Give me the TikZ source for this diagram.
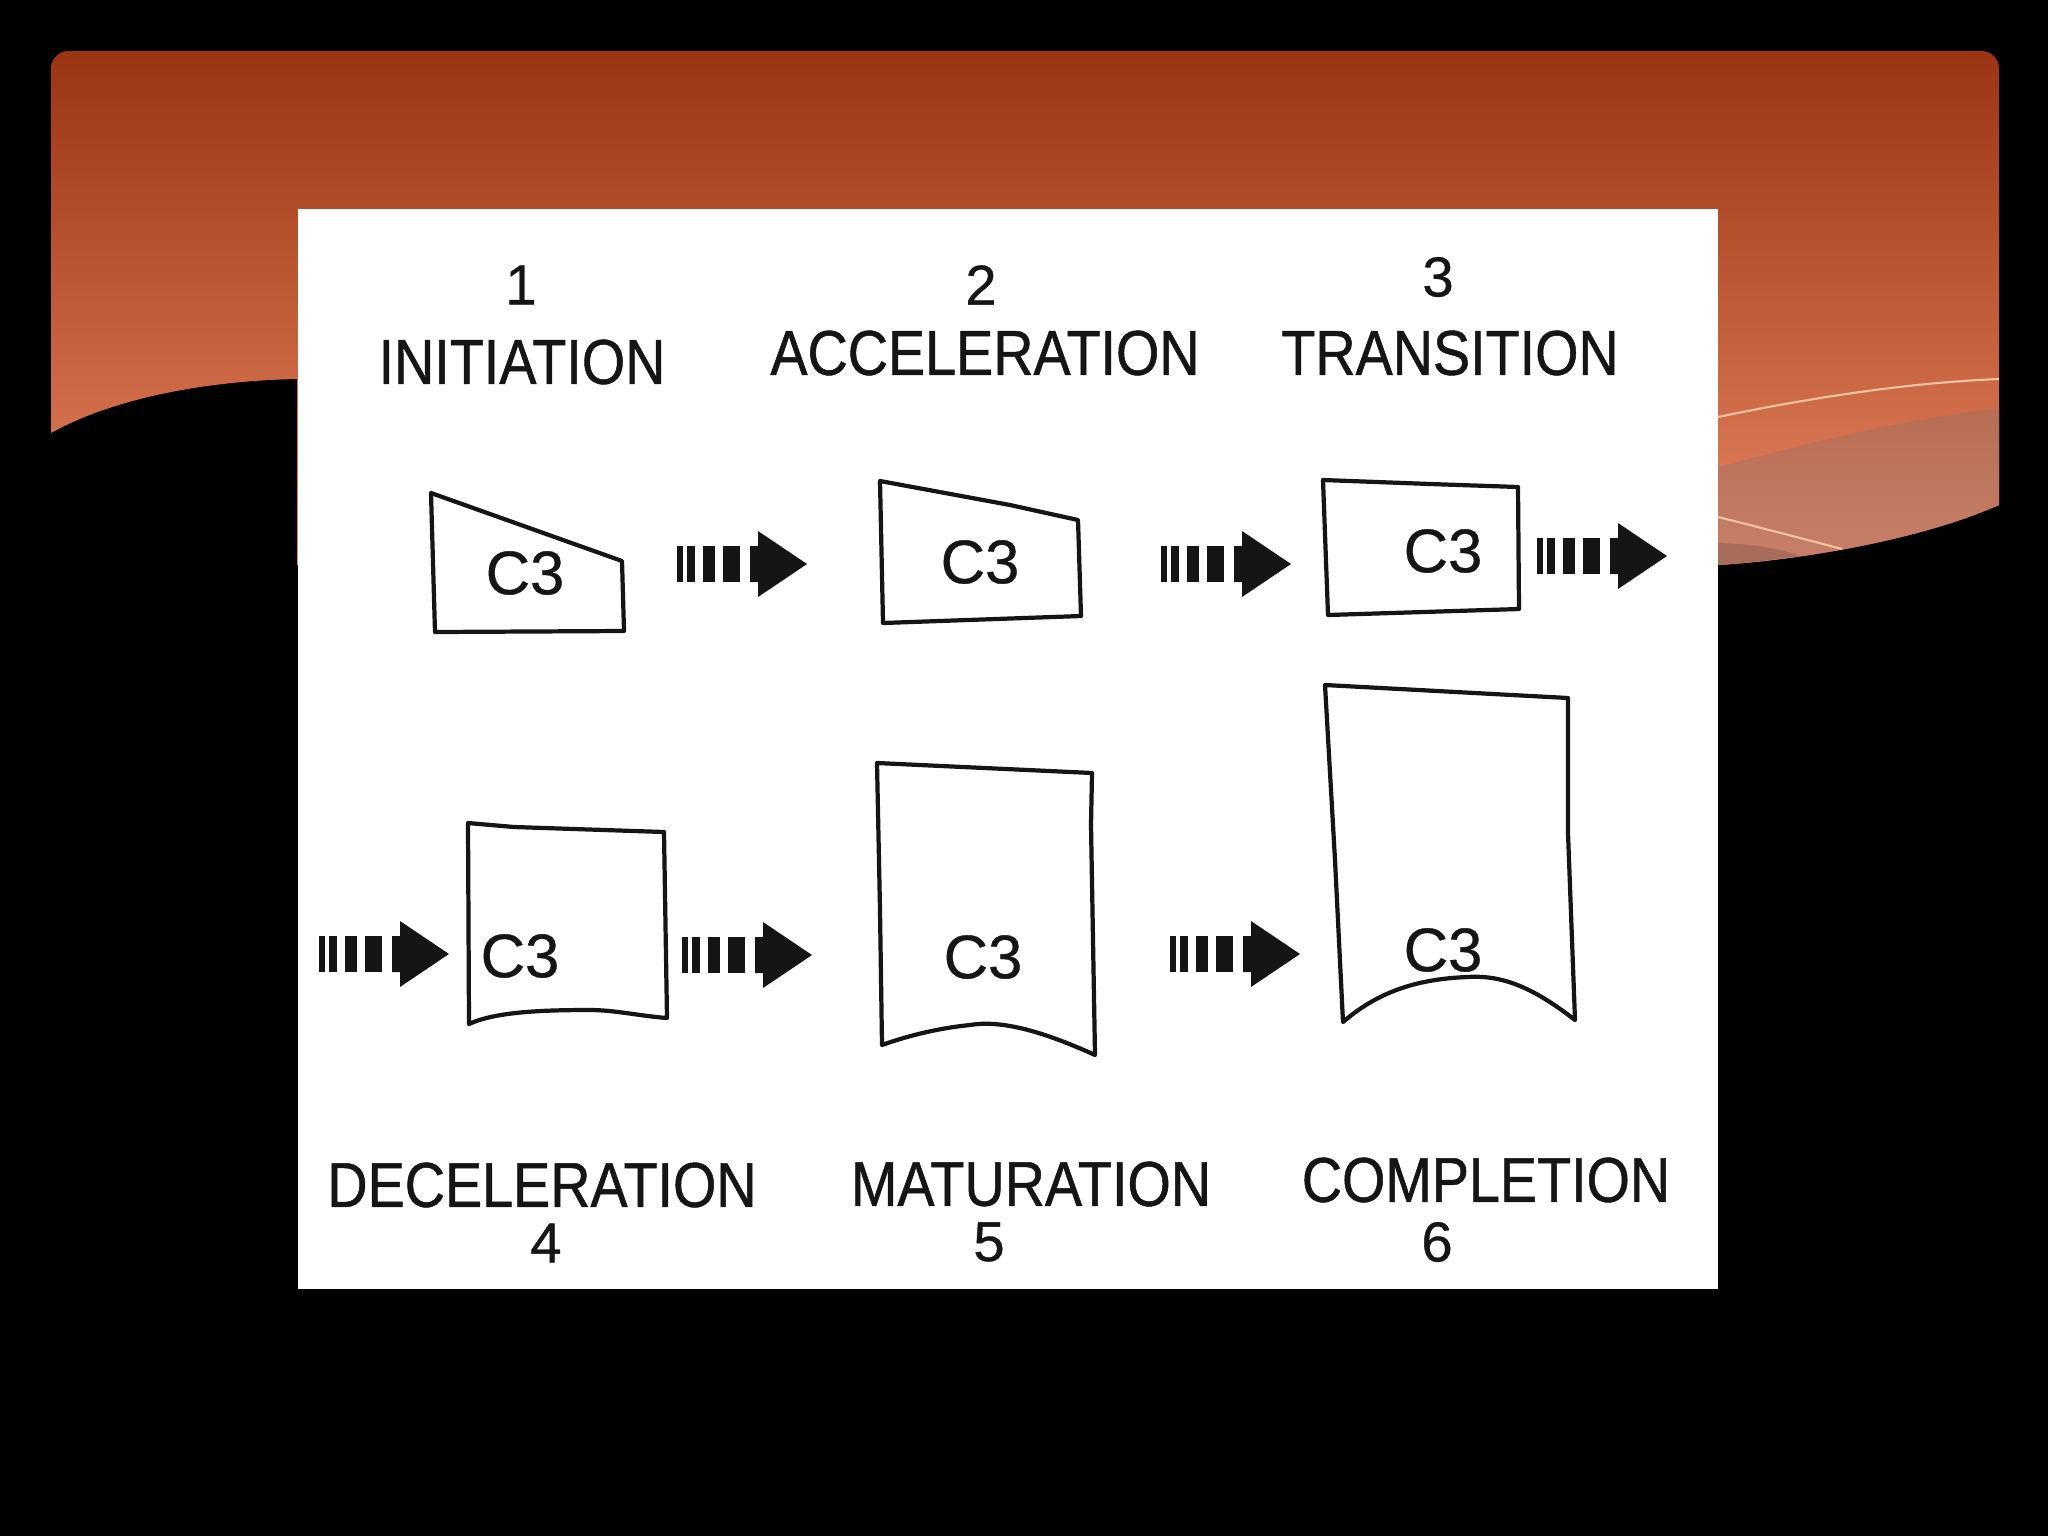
\documentclass[tikz,border=0pt]{standalone}
\usepackage{fontspec}
\newfontfamily\labfont[FakeStretch=0.88,FakeBold=0.8]{Liberation Sans}
\newfontfamily\cfont[FakeBold=0.6]{Liberation Sans}
\definecolor{hdtop}{HTML}{9A3412}
\definecolor{hdbot}{HTML}{E88460}
\definecolor{bandtop}{HTML}{B86C52}
\definecolor{bandbot}{HTML}{C8806A}
\definecolor{patch}{HTML}{A86C5A}
\definecolor{wisp}{HTML}{F4C4A0}
\definecolor{ink}{HTML}{151515}
\tikzset{
  pics/blockarrow/.style={code={
    \fill[ink] (0,-18) rectangle (6,18);
    \fill[ink] (10,-18) rectangle (18,18);
    \fill[ink] (26,-18) rectangle (38,18);
    \fill[ink] (46,-18) rectangle (63,18);
    \fill[ink] (73,-18) -- (81,-18) -- (81,-33) -- (130,0) -- (81,33) -- (81,18) -- (73,18) -- cycle;
  }},
  lab/.style={font=\labfont\fontsize{18}{20}\selectfont, text=ink, inner sep=0pt},
  num/.style={font=\cfont\fontsize{16}{18}\selectfont, text=ink, inner sep=0pt},
  ctext/.style={font=\cfont\fontsize{17.5}{20}\selectfont, text=ink, inner sep=0pt},
  stage/.style={draw=ink, line width=1.2pt, line join=round, line cap=round}
}
\begin{document}
\begin{tikzpicture}[x=0.01cm,y=-0.01cm]
\useasboundingbox (0,0) rectangle (2048,1536);
\fill[black] (0,0) rectangle (2048,1536);
% header
\shade[top color=hdtop, bottom color=hdbot]
  (51,433) [rounded corners=5pt] -- (51,51) -- (1999,51) -- (1999,200) [sharp corners] -- (1999,505)
  .. controls (1920,540) and (1800,560) .. (1718,565) -- (297,565) -- (297,379)
  .. controls (200,381) and (110,400) .. (51,433) -- cycle;
\shade[top color=bandtop, bottom color=bandbot]
  (1718,467) .. controls (1800,445) and (1900,420) .. (1999,408) -- (1999,505)
  .. controls (1920,540) and (1800,560) .. (1718,565) -- cycle;
\fill[patch] (1718,543) .. controls (1750,544) and (1775,547) .. (1800,556)
  .. controls (1770,560) and (1745,563) .. (1718,565) -- cycle;
\draw[wisp, line width=0.6pt] (1718,417) .. controls (1800,400) and (1900,383) .. (1999,379);
\draw[wisp, line width=0.6pt] (1718,517) .. controls (1770,530) and (1800,538) .. (1842,549);
% white panel
\fill[white] (298,209) rectangle (1718,1289);

% labels top
\node[num] (n1) at (521,285) {1};
\node[lab] (l1) at (522,362) {INITIATION};
\node[num] (n2) at (981,285) {2};
\node[lab] (l2) at (985,353) {ACCELERATION};
\node[num] (n3) at (1438,277) {3};
\node[lab] (l3) at (1450,353) {TRANSITION};
% labels bottom
\node[lab] (l4) at (542,1185) {DECELERATION};
\node[num] (n4) at (546,1243) {4};
\node[lab] (l5) at (1031,1184) {MATURATION};
\node[num] (n5) at (989,1242) {5};
\node[lab] (l6) at (1486,1180) {COMPLETION};
\node[num] (n6) at (1437,1242) {6};

% stage 1
\draw[stage] (431,493) -- (622,561) -- (624,631) -- (435,632) -- cycle;
\node[ctext] (c1) at (525,573) {C3};
% stage 2
\draw[stage] (880,481) -- (1010,505) -- (1078,520) -- (1081,616) -- (883,623) -- cycle;
\node[ctext] (c2) at (980,562) {C3};
% stage 3
\draw[stage] (1323,480) -- (1430,484) -- (1518,487) -- (1519,609) -- (1328,615) -- cycle;
\node[ctext] (c3) at (1443,551) {C3};
% stage 4
\draw[stage] (468,823) -- (514,827) -- (664,832) -- (667,1018)
  .. controls (640,1016) and (615,1010) .. (590,1010)
  .. controls (540,1010) and (495,1012) .. (469,1024) -- cycle;
\node[ctext] (c4) at (520,956) {C3};
% stage 5
\draw[stage] (877,763) -- (1092,773) -- (1091,825) -- (1095,1055)
  .. controls (1040,1030) and (1000,1020) .. (970,1025)
  .. controls (940,1028) and (910,1035) .. (882,1045)
  -- (880,910) -- cycle;
\node[ctext] (c5) at (983,957) {C3};
% stage 6
\draw[stage] (1325,685) -- (1568,698) -- (1568,833) -- (1575,1020)
  .. controls (1530,985) and (1500,975) .. (1467,977)
  .. controls (1420,979) and (1380,990) .. (1343,1022)
  -- (1335,860) -- cycle;
\node[ctext] (c6) at (1443,950) {C3};

% block arrows
\pic (a1) at (677,564) {blockarrow};
\pic (a2) at (1161,564) {blockarrow};
\pic (a3) at (1537,556) {blockarrow};
\pic (a4) at (319,954) {blockarrow};
\pic (a5) at (682,955) {blockarrow};
\pic (a6) at (1170,954) {blockarrow};
\end{tikzpicture}
\end{document}
